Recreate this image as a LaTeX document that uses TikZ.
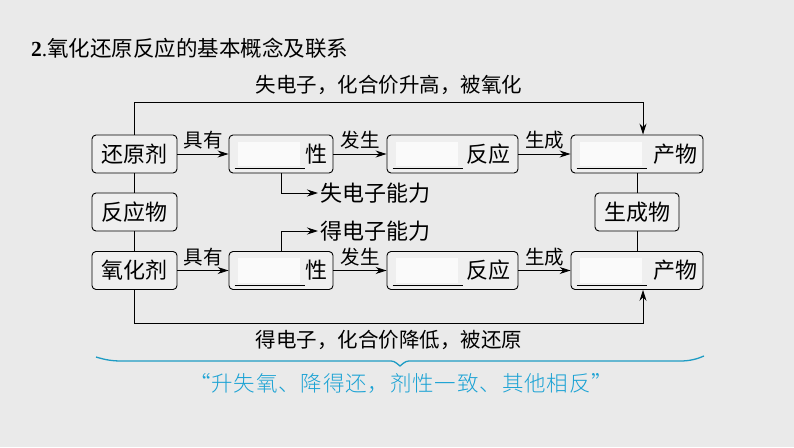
\documentclass[tikz,border=0pt]{standalone}
\usepackage{fontspec}
\setmainfont{Liberation Serif}
\newfontfamily\cjk{Noto Sans CJK SC}
\newfontfamily\cjkq[LetterSpace=4]{Noto Sans CJK SC Light}
\usetikzlibrary{arrows.meta,calc}
\definecolor{bgc}{HTML}{EAEAEA}
\definecolor{boxfill}{HTML}{EFEFEF}
\definecolor{blankc}{HTML}{FAFAFA}
\definecolor{cyanq}{HTML}{1AA2D4}
\definecolor{bracec}{HTML}{1E9CC4}
\begin{document}
\begin{tikzpicture}[x=1pt,y=-1pt,
  box/.style={draw, line width=0.9pt, rounded corners=4pt, fill=boxfill, minimum height=38pt, inner sep=0pt, font=\cjk\fontsize{22}{22}\selectfont},
  conn/.style={line width=0.9pt},
  arr/.style={conn, -{Stealth[length=11pt,width=7pt]}},
  lab/.style={font=\cjk\fontsize{19.5}{20}\selectfont, inner sep=1pt},
  side/.style={font=\cjk\fontsize{22}{22}\selectfont, inner sep=2pt, anchor=west},
  note/.style={font=\cjk\fontsize{20.5}{21}\selectfont, inner sep=0pt},
  blankbox/.style={fill=blankc},
  brace/.style={draw=bracec, line width=1.3pt}]
\useasboundingbox (0,0) rectangle (794,447);
\fill[bgc] (0,0) rectangle (794,447);

% title
\node[anchor=west, inner sep=0pt, font=\fontsize{21.5}{22}\selectfont] (title) at (31,48) {\textbf{2}.\cjk 氧化还原反应的基本概念及联系};

% left column
\node[box, minimum width=85pt] (hy) at (134.5,154) {还原剂};
\node[box, minimum width=85pt] (fyw) at (134.5,212) {反应物};
\node[box, minimum width=85pt] (yh) at (134.5,270.5) {氧化剂};

% row 1
\node[box, minimum width=104pt, text width=92pt, align=right] (x1) at (281,154) {性};
\node[box, minimum width=131pt, text width=115pt, align=right] (f1) at (452.5,154) {反应};
\node[box, minimum width=132pt, text width=120pt, align=right] (c1) at (637,154) {产物};
% row 2
\node[box, minimum width=104pt, text width=92pt, align=right] (x2) at (281,270.5) {性};
\node[box, minimum width=131pt, text width=115pt, align=right] (f2) at (452.5,270.5) {反应};
\node[box, minimum width=132pt, text width=120pt, align=right] (c2) at (637,270.5) {产物};
% product column
\node[box, minimum width=84pt] (scw) at (637,212) {生成物};

% blanks
\foreach \b in {x1,f1,c1,x2,f2,c2}{
  \fill[blankbox] ($(\b.north west)+(9,7)$) rectangle ($(\b.south west)+(71,-7)$);
  \draw[conn] ($(\b.south west)+(6,-5)$) -- ++(70,0);
}

% vertical links
\draw[conn] (hy) -- (fyw);
\draw[conn] (fyw) -- (yh);
\draw[conn] (c1) -- (scw);
\draw[conn] (scw) -- (c2);

% row arrows
\draw[arr] (hy) -- node[lab, above=3pt] (l1) {具有} (x1);
\draw[arr] (x1) -- node[lab, above=3pt] (l2) {发生} (f1);
\draw[arr] (f1) -- node[lab, above=3pt] (l3) {生成} (c1);
\draw[arr] (yh) -- node[lab, above=3pt] (l4) {具有} (x2);
\draw[arr] (x2) -- node[lab, above=3pt] (l5) {发生} (f2);
\draw[arr] (f2) -- node[lab, above=3pt] (l6) {生成} (c2);

% ability branches
\node[side] (t1) at (318,193) {失电子能力};
\node[side] (t2) at (318,231) {得电子能力};
\draw[arr] (x1.south) |- (t1.west);
\draw[arr] (x2.north) |- (t2.west);

% top and bottom loops
\coordinate (topR) at (643,102);
\coordinate (botR) at (643,323);
\draw[arr] (hy.north) |- (topR) -- (topR |- c1.north);
\draw[arr] (yh.south) |- (botR) -- (botR |- c2.south);
\node[note] (tl) at (389,85) {失电子，化合价升高，被氧化};
\node[note] (bl) at (389,340) {得电子，化合价降低，被还原};

% brace
\draw[brace] (96,357) .. controls (106,360) and (112,361) .. (122,361) -- (388,361)
  .. controls (394,361) .. (400,366) .. controls (406,361) .. (412,361) -- (680,361)
  .. controls (690,361) and (697,359) .. (704,356);

% quote
\node[font=\cjkq\fontsize{21.5}{22}\selectfont, text=cyanq, inner sep=0pt] (q) at (401,383) {“升失氧、降得还，剂性一致、其他相反”};
\end{tikzpicture}
\end{document}
